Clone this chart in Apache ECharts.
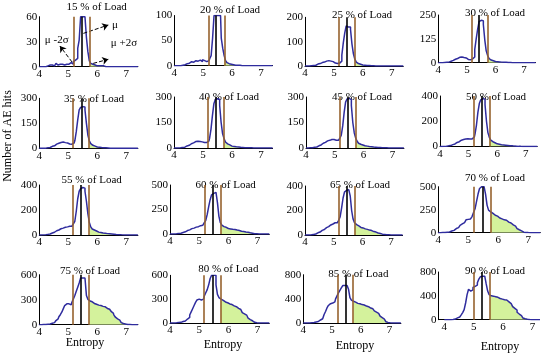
<!DOCTYPE html>
<html><head><meta charset="utf-8">
<script src="https://cdn.jsdelivr.net/npm/echarts@6/dist/echarts.min.js"></script>
<style>html,body{margin:0;padding:0;background:#fff}#c{width:550px;height:356px}</style>
</head><body><div id="c"></div>
<script>
// ---------- DATA ----------
const loads = [15,20,25,30,35,40,45,50,55,60,65,70,75,80,85,90];
const xBins = [4.00,4.05,4.10,4.15,4.20,4.25,4.30,4.35,4.40,4.45,
4.50,4.55,4.60,4.65,4.70,4.75,4.80,4.85,4.90,4.95,
5.00,5.05,5.10,5.15,5.20,5.25,5.30,5.35,5.40,5.45,
5.50,5.55,5.60,5.65,5.70,5.75,5.80,5.85,5.90,5.95,
6.00,6.05,6.10,6.15,6.20,6.25,6.30,6.35,6.40,6.45,
6.50,6.55,6.60,6.65,6.70,6.75,6.80,6.85,6.90,6.95,
7.00,7.05,7.10,7.15,7.20,7.25,7.30,7.35,7.40];
const h15 = [0,0,0,0,0,0,1,2,3,2, 1,3,4,2,3,5,3,2,4,3, 3,2,5,3,6,8,10,22,32,60, 60,60,60,35,18,7,4,3,2,2, 1,1,1,1,1,0,0,0,0,0, 0,0,0,0,0,0,0,0,0,0, 0,0,0,0,0,0,0,0,0];
const h20 = [0,0,0,0,0,0,1,2,3,4, 5,6,8,7,9,10,9,12,11,8, 12,10,8,9,10,14,20,55,100,100, 100,100,100,55,35,20,10,6,4,3, 2,2,1,1,1,1,0,0,0,0, 0,0,0,0,0,0,0,0,0,0, 0,0,0,0,0,0,0,0,0];
const h25 = [0,0,0,0,1,1,2,3,5,8, 10,12,14,16,18,20,22,22,20,18, 15,12,10,10,12,20,45,95,135,165, 160,160,150,90,50,28,16,10,7,5, 4,3,3,2,2,1,1,1,1,0, 0,0,0,0,0,0,0,0,0,0, 0,0,0,0,0,0,0,0,0];
const h30 = [0,0,0,0,1,1,2,3,5,8, 12,15,18,22,25,28,30,28,27,25, 20,17,15,16,20,30,70,125,175,215, 222,220,200,120,62,38,22,14,10,8, 6,5,4,4,3,3,2,2,1,1, 1,1,0,0,0,0,0,0,0,0, 0,0,0,0,0,0,0,0,0];
const h35 = [0,0,0,0,1,2,3,5,8,12, 15,20,25,30,33,35,38,36,34,32, 28,26,25,28,32,45,100,170,230,245, 250,248,230,150,80,45,28,18,13,10, 8,7,6,5,4,3,3,2,2,1, 1,1,1,0,0,0,0,0,0,0, 0,0,0,0,0,0,0,0,0];
const h40 = [0,0,0,0,1,2,3,5,8,12, 16,20,25,30,35,38,40,40,38,36, 34,32,32,35,40,55,110,190,260,285, 290,285,250,150,85,55,35,24,18,14, 11,9,8,7,6,5,4,3,3,2, 2,1,1,1,0,0,0,0,0,0, 0,0,0,0,0,0,0,0,0];
const h45 = [0,0,0,1,2,3,4,6,9,13, 18,22,28,33,38,42,45,48,50,50, 48,46,45,50,58,75,130,210,270,288, 292,285,250,150,90,58,40,28,22,18, 15,13,11,10,9,8,7,6,5,4, 3,3,2,2,1,1,1,0,0,0, 0,0,0,0,0,0,0,0,0];
const h50 = [0,0,0,1,2,3,5,7,10,15, 20,26,32,38,44,50,55,58,60,62, 62,60,60,65,75,100,170,270,340,370, 380,375,330,200,110,72,50,38,30,25, 21,18,16,14,12,11,10,8,7,6, 5,4,3,2,2,1,1,0,0,0, 0,0,0,0,0,0,0,0,0];
const h55 = [0,0,0,1,2,3,5,8,12,16, 22,28,34,40,45,50,55,58,62,65, 68,70,70,75,90,110,190,290,350,370, 380,375,350,270,170,100,65,48,40,32, 27,23,20,18,16,14,12,11,10,9, 8,6,5,4,3,2,2,1,1,0, 0,0,0,0,0,0,0,0,0];
const h60 = [0,0,0,1,2,3,5,8,12,16, 22,28,35,42,48,55,60,65,70,75, 80,85,90,100,115,140,200,280,350,400, 415,425,420,320,180,115,90,75,68,60, 56,52,50,48,46,44,40,36,32,28, 25,22,20,18,15,12,8,5,3,2, 1,0,0,0,0,0,0,0,0];
const h65 = [0,0,1,1,2,3,5,8,12,18, 24,30,38,45,52,60,68,75,82,90, 95,100,100,105,120,150,220,300,350,365, 370,365,320,200,130,100,85,75,68,62, 58,54,50,46,43,40,36,32,28,24, 20,16,12,9,7,5,4,3,2,1, 1,0,0,0,0,0,0,0,0];
const h70 = [0,0,1,1,2,3,5,8,12,18, 25,35,45,55,65,80,95,110,125,140, 145,150,150,175,220,260,340,420,480,500, 500,495,420,300,245,225,210,200,190,180, 170,160,150,145,140,135,125,115,105,95, 85,72,60,45,32,20,12,6,3,1, 1,0,0,0,0,0,0,0,0];
const h75 = [0,0,0,1,2,3,5,8,12,18, 25,35,50,70,95,120,150,190,230,250, 250,235,240,270,310,350,400,450,500,560, 560,560,555,350,305,285,275,265,255,245, 240,235,230,225,220,215,205,195,185,175, 160,140,115,90,70,55,40,25,15,8, 4,2,1,0,0,0,0,0,0];
const h80 = [0,0,0,1,2,3,5,8,12,18, 25,35,50,70,100,140,180,220,260,290, 300,290,280,300,340,380,420,480,560,600, 600,600,480,360,320,300,285,275,265,255, 248,240,232,225,215,205,195,185,170,150, 130,115,100,80,60,42,28,15,8,4, 2,1,0,0,0,0,0,0,0];
const h85 = [0,0,0,1,2,3,5,8,12,18, 25,35,50,70,100,140,190,250,290,320, 330,320,350,400,450,500,540,580,620,620, 620,620,560,420,380,360,345,335,325,318, 312,305,298,290,280,270,260,248,235,220, 200,180,160,140,115,90,65,40,22,10, 4,2,1,0,0,0,0,0,0];
const h90 = [0,0,0,0,1,2,5,10,18,30, 45,60,80,120,170,280,420,510,480,500, 540,560,580,620,680,720,730,730,720,600, 480,420,400,395,390,385,375,365,355,345, 340,335,330,320,300,270,250,220,190,160, 125,95,70,45,28,15,8,4,2,1, 0,0,0,0,0,0,0,0,0];
const hists = [h15,h20,h25,h30,h35,h40,h45,h50,h55,h60,h65,h70,h75,h80,h85,h90];
const muVals = [5.46,5.44,5.44,5.42, 5.46,5.45,5.45,5.45, 5.44,5.46,5.45,5.47, 5.44,5.45,5.49,5.28];
const loVals = [5.20,5.20,5.18,5.17, 5.17,5.18,5.18,5.18, 5.15,5.20,5.18,5.19, 5.17,5.17,5.20,5.00];
const hiVals = [5.75,5.73,5.73,5.73, 5.72,5.73,5.73,5.73, 5.71,5.74,5.73,5.75, 5.72,5.74,5.74,5.55];
const yMax = [60,100,200,250, 300,300,300,400, 400,500,400,500, 600,600,800,800];
const xMin = [4,4,4,4, 4,4,4,4, 4,4,4,4, 4,4,4,3.8];
const xMax = [7.4,7.4,7.4,7.4, 7.4,7.4,7.4,7.4, 7.4,7.4,7.4,7.4, 7.4,7.4,7.4,7.2];
const xTicks = [4,5,6,7];
// annotation arrows (data coords of panel 1): [tail, head]
const annotArrows = [[[5.13,5.6],[4.71,24.8]], [[5.52,40],[6.38,50]], [[5.86,4],[6.38,8.9]]];
const annotTexts = ['μ -2σ','μ','μ +2σ'];

// ---------- LAYOUT (pixel) ----------
// [x-pixel of entropy 4, px per unit, top px, zero px, title cx, title cy]
const layout = [
 [39.3,29,16.7,66.7, 96.7,7.3], [174.3,28.9,15.5,65.7, 230,10], [305,28.9,17.3,66, 362,15], [438.3,28.6,15,62.7, 495,13.3],
 [39.3,29,98.3,148.3, 94,99], [174,29,97,148, 229,97], [306,28.8,97,148, 362,97], [440,28.6,96,146.5, 496,97],
 [39.3,29,185,235, 91.7,180], [170,29.2,185,234, 225.7,185], [305,28.7,186,235, 360,185], [438.3,30,186.7,232.7, 495,178.3],
 [39.3,29,274.7,324.7, 90,271.3], [170,29.2,275.3,323, 228.3,268.7], [303.3,28.7,274.7,323, 358.3,274], [444.3,29.4,272,319.7, 495,270.7]
];
const annotPos = [[56.7,40],[115,25],[124,43]];
const entropyPos = [[85,343],[223,345],[355,346],[500,347]];

const FONT = '"Liberation Serif", "Times New Roman", serif';
const BLUE = '#2f2c9e', BROWN = '#96622e', GREEN = '#d4f29c';

const grids=[], xAxes=[], yAxes=[], series=[], graphics=[];
function fillData(h, hv){
  const out=[];
  xBins.forEach((x,j)=>{
    const l=x-0.025, r=x+0.025;
    if (r<=hv) return;
    out.push([Math.max(l,hv), h[j]]); out.push([r, h[j]]);
  });
  return out;
}
loads.forEach((ld,i)=>{
  const [x4,ppu,tp,bp,tcx,tcy] = layout[i];
  grids.push({left: x4-(4-xMin[i])*ppu, top: tp, width: (xMax[i]-xMin[i])*ppu, height: bp-tp});
  xAxes.push({type:'value', gridIndex:i, min:xMin[i], max:xMax[i],
    axisLine:{show:true,onZero:false,lineStyle:{color:'#000',width:1}},
    axisTick:{show:false}, splitLine:{show:false},
    axisLabel:{customValues:xTicks, fontFamily:FONT, fontSize:11, color:'#000', margin:2}});
  yAxes.push({type:'value', gridIndex:i, min:0, max:yMax[i], interval:yMax[i]/2,
    axisLine:{show:true,lineStyle:{color:'#000',width:1}},
    axisTick:{show:false}, splitLine:{show:false},
    axisLabel:{fontFamily:FONT, fontSize:11, color:'#000', margin:2}});
  const h = hists[i];
  series.push({type:'line', xAxisIndex:i, yAxisIndex:i, data: fillData(h, hiVals[i]),
    symbol:'none', lineStyle:{width:0}, areaStyle:{color:GREEN, opacity:1}, z:2, silent:true,
    markLine: i===0 ? {silent:true, symbol:['none','arrow'], symbolSize:6, label:{show:false},
      lineStyle:{color:'#000', type:'dashed', width:1},
      data: annotArrows.map(a=>[{coord:a[0]},{coord:a[1]}])} : undefined});
  series.push({type:'line', xAxisIndex:i, yAxisIndex:i, data: xBins.map((x,j)=>[x,h[j]]),
    step:'middle', symbol:'none', lineStyle:{color:BLUE, width:1.5}, z:3, silent:true,
    markLine:{silent:true, symbol:'none', label:{show:false},
      data:[{xAxis:loVals[i], lineStyle:{color:BROWN,width:1.6,type:'solid'}},
            {xAxis:muVals[i], lineStyle:{color:'#000',width:1.6,type:'solid'}},
            {xAxis:hiVals[i], lineStyle:{color:BROWN,width:1.6,type:'solid'}}]}});
  graphics.push({type:'text', x:tcx, y:tcy, style:{text: ld+' % of Load', font:'11px '+FONT, fill:'#000',
    align:'center', verticalAlign:'middle', textAlign:'center', textVerticalAlign:'middle'}});
});
annotTexts.forEach((t,k)=>graphics.push({type:'text', x:annotPos[k][0], y:annotPos[k][1],
  style:{text:t, font:'11px '+FONT, fill:'#000', align:'center', verticalAlign:'middle', textAlign:'center', textVerticalAlign:'middle'}}));
entropyPos.forEach(p=>graphics.push({type:'text', x:p[0], y:p[1],
  style:{text:'Entropy', font:'12px '+FONT, fill:'#000', align:'center', verticalAlign:'middle', textAlign:'center', textVerticalAlign:'middle'}}));
graphics.push({type:'text', x:8, y:136, rotation:Math.PI/2,
  style:{text:'Number of AE hits', font:'12px '+FONT, fill:'#000', align:'center', verticalAlign:'middle', textAlign:'center', textVerticalAlign:'middle'}});

const chart = echarts.init(document.getElementById('c'), null, {renderer:'canvas'});
chart.setOption({animation:false, backgroundColor:'#fff', grid:grids, xAxis:xAxes, yAxis:yAxes, series:series, graphic:graphics});
</script></body></html>
